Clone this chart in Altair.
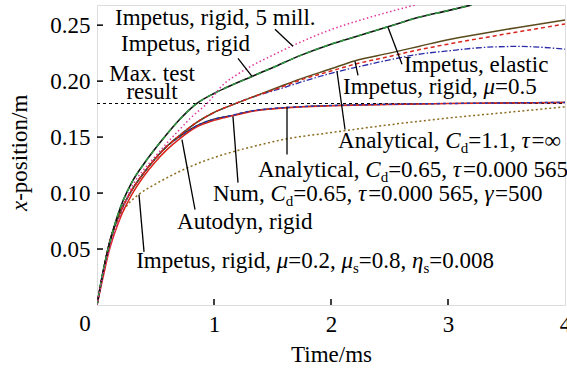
import altair as alt
import pandas as pd

# ---------------- curves: time (ms) vs. x-position (m) ----------------
t_5mill = [0, 0.05, 0.1, 0.2, 0.3, 0.4, 0.5, 0.6, 0.7, 0.8, 0.94, 1.09, 1.2, 1.31, 1.5, 1.7, 2.0, 2.3, 2.72]
x_5mill = [0, 0.026, 0.047, 0.080, 0.106, 0.121, 0.133, 0.145, 0.156, 0.167, 0.180, 0.198, 0.206, 0.213, 0.223, 0.233, 0.246, 0.256, 0.268]

t_rigid = [0, 0.05, 0.1, 0.2, 0.3, 0.4, 0.5, 0.6, 0.7, 0.84, 1.0, 1.1, 1.32, 1.5, 1.74, 2.0, 2.25, 2.5, 2.75, 3.0, 3.2]
x_rigid = [0, 0.029, 0.052, 0.087, 0.110, 0.126, 0.140, 0.153, 0.165, 0.179, 0.189, 0.194, 0.204, 0.212, 0.223, 0.233, 0.241, 0.249, 0.257, 0.263, 0.268]

t_mid = [0, 0.05, 0.1, 0.2, 0.3, 0.4, 0.5, 0.6, 0.7, 0.85, 1.0, 1.16, 1.31, 1.56, 1.74, 2.0, 2.2, 2.5, 2.75, 3.0, 3.32, 3.6, 4.0]
x_mu05 = [0, 0.028, 0.053, 0.083, 0.103, 0.118, 0.131, 0.142, 0.151, 0.163, 0.172, 0.179, 0.185, 0.195, 0.202, 0.211, 0.218, 0.225, 0.231, 0.237, 0.243, 0.248, 0.2545]
x_cd11 = [0, 0.028, 0.053, 0.083, 0.103, 0.118, 0.131, 0.142, 0.151, 0.163, 0.172, 0.179, 0.185, 0.194, 0.201, 0.209, 0.215, 0.222, 0.228, 0.233, 0.239, 0.244, 0.251]
x_elastic = [0, 0.028, 0.053, 0.083, 0.103, 0.118, 0.131, 0.142, 0.151, 0.163, 0.172, 0.179, 0.185, 0.193, 0.199, 0.207, 0.212, 0.219, 0.224, 0.227, 0.2302, 0.231, 0.2285]

t_flat = [0, 0.05, 0.1, 0.2, 0.3, 0.4, 0.5, 0.6, 0.7, 0.85, 1.0, 1.16, 1.3, 1.5, 1.75, 2.0, 2.5, 3.0, 3.5, 4.0]
x_cd065 = [0, 0.028, 0.053, 0.083, 0.103, 0.118, 0.131, 0.142, 0.150, 0.160, 0.166, 0.1695, 0.173, 0.1755, 0.1772, 0.1782, 0.1793, 0.1800, 0.1805, 0.181]
x_num = [0, 0.028, 0.053, 0.083, 0.103, 0.118, 0.131, 0.142, 0.150, 0.160, 0.166, 0.1695, 0.173, 0.1755, 0.1772, 0.1782, 0.1793, 0.1800, 0.1805, 0.181]
x_autodyn = [0, 0.024, 0.047, 0.078, 0.099, 0.115, 0.128, 0.139, 0.148, 0.159, 0.165, 0.169, 0.1725, 0.1752, 0.177, 0.178, 0.1792, 0.1799, 0.1805, 0.181]

t_mu02 = [0, 0.05, 0.1, 0.17, 0.25, 0.36, 0.5, 0.7, 0.9, 1.1, 1.35, 1.6, 2.0, 2.5, 3.0, 3.5, 4.0]
x_mu02 = [0, 0.027, 0.049, 0.074, 0.088, 0.099, 0.108, 0.119, 0.128, 0.135, 0.142, 0.148, 0.154, 0.161, 0.167, 0.172, 0.177]

max_test = 0.18

x_ticks = [1, 2, 3, 4]
y_ticks = [0.05, 0.10, 0.15, 0.20, 0.25]

# ---------------- layout ----------------
PLOT_W, PLOT_H = 468, 300
T_MAX, Y_MAX = 4.0, 0.268
PX_T = T_MAX / PLOT_W
PX_Y = Y_MAX / PLOT_H
FONT = "Liberation Serif"
FS = 23
FS_SUB = 15

x_scale = alt.Scale(domain=[0, T_MAX], nice=False, zero=False)
y_scale = alt.Scale(domain=[0, Y_MAX], nice=False, zero=False)

series = [
    # name, times, values, colour, dash, width
    ("mu02", t_mu02, x_mu02, "#8c6d1f", [2, 2.5], 1.5),
    ("cd065", t_flat, x_cd065, "#2b2b2b", None, 1.2),
    ("autodyn", t_flat, x_autodyn, "#d8261c", None, 1.5),
    ("num", t_flat, x_num, "#2a36b0", [3, 3], 1.5),
    ("elastic_b", t_mid, x_elastic, "#2a2aa8", [6, 2, 1.5, 2], 1.3),
    ("mu05", t_mid, x_mu05, "#5a4a1c", None, 1.5),
    ("cd11", t_mid, x_cd11, "#d8261c", [4, 3], 1.5),
    ("rigid", t_rigid, x_rigid, "#111111", None, 1.6),
    ("elastic", t_rigid, x_rigid, "#2f9a40", [5, 4], 1.5),
    ("mill5", t_5mill, x_5mill, "#e0359a", [1.5, 2.5], 1.5),
]

y_axis = alt.Axis(values=y_ticks, format=".2f", ticks=False, domain=False, grid=False,
                  labelFont=FONT, labelFontSize=FS, labelColor="black", labelPadding=7,
                  labelFlush=False, title=None)
x_axis = alt.Axis(values=x_ticks, format="d", ticks=False, domain=False, grid=False,
                  labelFont=FONT, labelFontSize=FS, labelColor="black", labelPadding=8,
                  labelFlush=False, labelOverlap=False,
                  title="Time/ms", titleFont=FONT, titleFontSize=FS, titleFontWeight="normal",
                  titleColor="black", titlePadding=7)

layers = []

# dashed line of the maximum test result
layers.append(
    alt.Chart(pd.DataFrame({"y": [max_test]})).mark_rule(color="black", strokeDash=[3, 3], strokeWidth=1)
    .encode(y=alt.Y("y:Q", scale=y_scale, axis=y_axis), x=alt.value(0), x2=alt.value(PLOT_W))
)

for name, ts, xs, col, dash, w in series:
    df = pd.DataFrame({"t": ts, "pos": xs})
    kw = dict(color=col, strokeWidth=w, interpolate="monotone", clip=True)
    if dash:
        kw["strokeDash"] = dash
    layers.append(
        alt.Chart(df).mark_line(**kw).encode(
            x=alt.X("t:Q", scale=x_scale, axis=x_axis),
            y=alt.Y("pos:Q", scale=y_scale, axis=y_axis),
        )
    )

# inward tick marks
layers.append(
    alt.Chart(pd.DataFrame({"t": x_ticks[:-1]})).mark_rule(color="black", strokeWidth=1.5)
    .encode(x=alt.X("t:Q", scale=x_scale), y=alt.value(PLOT_H), y2=alt.value(PLOT_H - 6))
)
layers.append(
    alt.Chart(pd.DataFrame({"y": y_ticks})).mark_rule(color="black", strokeWidth=1.5)
    .encode(y=alt.Y("y:Q", scale=y_scale), x=alt.value(0), x2=alt.value(6))
)

# origin label
layers.append(
    alt.Chart(pd.DataFrame({"t": [0], "y": [0], "s": ["0"]})).mark_text(
        font=FONT, fontSize=FS, color="black", baseline="top", align="center", dx=-12, dy=8)
    .encode(x=alt.X("t:Q", scale=x_scale), y=alt.Y("y:Q", scale=y_scale), text="s:N")
)

# ---------------- annotations ----------------
W_REG = {" ": 250, ",": 250, ".": 250, "=": 564, "-": 333, "/": 278, "∞": 713,
         "A": 722, "I": 333, "M": 889, "N": 722, "T": 611,
         "a": 444, "c": 444, "d": 500, "e": 444, "g": 500, "i": 278, "l": 278, "m": 778,
         "n": 500, "o": 500, "p": 500, "r": 333, "s": 389, "t": 278, "u": 500, "x": 500, "y": 500}
W_IT = {"C": 667, "x": 444, "τ": 440, "μ": 500, "γ": 450, "η": 500}
for d in "0123456789":
    W_REG[d] = 500


def width(s, table, size):
    return sum(table.get(c, 500) for c in s) * size / 1000.0


def rows_for(t0, y0, segs, center=False):
    out = []
    total = 0.0
    for txt, kind in segs:
        if kind == "sub":
            total += width(txt, W_REG, FS_SUB)
        else:
            total += width(txt, W_IT if kind == "i" else W_REG, FS)
    pos = -total / 2 if center else 0.0
    for txt, kind in segs:
        if kind == "sub":
            out.append({"t": t0 + pos * PX_T, "y": y0 - 5 * PX_Y, "s": txt, "size": FS_SUB, "kind": "r"})
            pos += width(txt, W_REG, FS_SUB)
        else:
            out.append({"t": t0 + pos * PX_T, "y": y0, "s": txt, "size": FS, "kind": kind})
            pos += width(txt, W_IT if kind == "i" else W_REG, FS)
    return out


labels = [
    (0.154, 0.250, [("Impetus, rigid, 5 mill.", "r")], False),
    (0.205, 0.2267, [("Impetus, rigid", "r")], False),
    (0.470, 0.1998, [("Max. test", "r")], True),
    (0.470, 0.1837, [("result", "r")], True),
    (2.624, 0.2079, [("Impetus, elastic", "r")], False),
    (2.103, 0.1882, [("Impetus, rigid, ", "r"), ("μ", "i"), ("=0.5", "r")], False),
    (2.060, 0.1407, [("Analytical, ", "r"), ("C", "i"), ("d", "sub"), ("=1.1, ", "r"),
                     ("τ", "i"), ("=∞", "r")], False),
    (1.376, 0.1147, [("Analytical, ", "r"), ("C", "i"), ("d", "sub"), ("=0.65, ", "r"),
                     ("τ", "i"), ("=0.000 565", "r")], False),
    (0.991, 0.0932, [("Num, ", "r"), ("C", "i"), ("d", "sub"), ("=0.65, ", "r"), ("τ", "i"),
                     ("=0.000 565, ", "r"), ("γ", "i"), ("=500", "r")], False),
    (0.684, 0.0681, [("Autodyn, rigid", "r")], False),
    (0.335, 0.0332, [("Impetus, rigid, ", "r"), ("μ", "i"), ("=0.2, ", "r"), ("μ", "i"),
                     ("s", "sub"), ("=0.8, ", "r"), ("η", "i"), ("s", "sub"), ("=0.008", "r")], False),
]

text_rows = []
for t0, y0, segs, center in labels:
    text_rows += rows_for(t0, y0, segs, center)
text_df = pd.DataFrame(text_rows)

for kind, style in (("r", "normal"), ("i", "italic")):
    layers.append(
        alt.Chart(text_df[text_df["kind"] == kind]).mark_text(
            font=FONT, fontStyle=style, color="black", align="left", baseline="alphabetic")
        .encode(x=alt.X("t:Q", scale=x_scale), y=alt.Y("y:Q", scale=y_scale), text="s:N",
                size=alt.Size("size:Q", scale=None))
    )

# leader lines from labels to curves
leaders = pd.DataFrame([
    (1.521, 0.2464, 1.675, 0.2312),
    (1.205, 0.2204, 1.325, 0.2043),
    (2.607, 0.2151, 2.487, 0.2482),
    (2.231, 0.2052, 2.205, 0.2177),
    (2.120, 0.1568, 2.051, 0.2088),
    (1.624, 0.1344, 1.624, 0.1774),
    (1.205, 0.1093, 1.162, 0.1685),
    (0.838, 0.0851, 0.726, 0.1478),
    (0.402, 0.0475, 0.359, 0.0986),
], columns=["t1", "y1", "t2", "y2"])
layers.append(
    alt.Chart(leaders).mark_rule(color="black", strokeWidth=1.3)
    .encode(x=alt.X("t1:Q", scale=x_scale), y=alt.Y("y1:Q", scale=y_scale), x2="t2:Q", y2="y2:Q")
)

# y-axis title with italic x
ytitle = pd.DataFrame([{"s": "x", "yy": 206, "kind": "i"},
                       {"s": "-position/m", "yy": 206 - width("x", W_IT, FS), "kind": "r"}])
for kind, style in (("r", "normal"), ("i", "italic")):
    sub = ytitle[ytitle["kind"] == kind]
    layers.append(
        alt.Chart(sub).mark_text(font=FONT, fontSize=FS, fontStyle=style, color="black",
                                 align="left", baseline="alphabetic", angle=270)
        .encode(text="s:N", x=alt.value(-70), y=alt.Y("yy:Q", scale=None))
    )

chart = alt.layer(*layers).properties(
    width=PLOT_W, height=PLOT_H,
    padding={"left": 97, "top": 5, "right": 2, "bottom": 67},
    autosize=alt.AutoSizeParams(type="none"),
).configure_view(stroke="#1a1a1a", strokeWidth=1.6).configure(background="white")

chart.save("out.html", embed_options={"renderer": "svg", "actions": False})
